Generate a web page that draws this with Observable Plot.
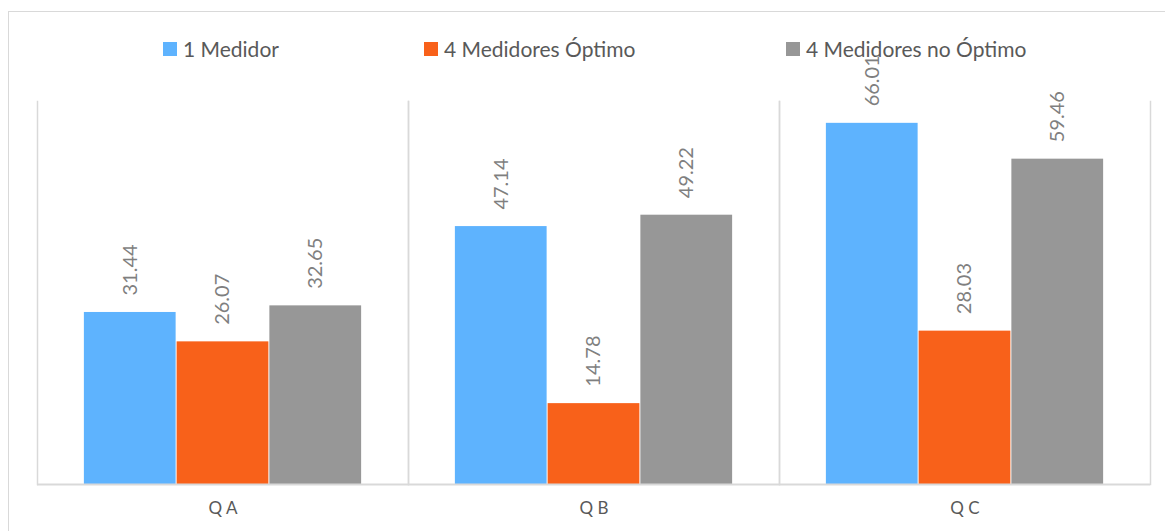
<!DOCTYPE html>
<html>
<head>
<meta charset="utf-8">
<script src="https://cdn.jsdelivr.net/npm/d3@7"></script>
<script src="https://cdn.jsdelivr.net/npm/@observablehq/plot@0.6"></script>
<style>
  html, body { margin: 0; padding: 0; background: #fff; overflow: hidden; }
  #wrap { position: relative; width: 1165px; height: 531px; font-family: Lato, "Open Sans", sans-serif; }
  #border { position: absolute; left: 8px; top: 11px; width: 1200px; height: 600px; border: 1.5px solid #d9d9d9; box-sizing: border-box; pointer-events: none; }
  #legend { position: relative; height: 48px; }
  .item { position: absolute; top: 30px; height: 38px; display: flex; align-items: center; gap: 6px; font-size: 21px; line-height: 20px; color: #595959; white-space: nowrap; }
  .sw { width: 14px; height: 14px; display: inline-block; }
  #chart svg { display: block; }
</style>
</head>
<body>
<div id="wrap">
  <div id="border"></div>
  <div id="legend"></div>
  <div id="chart"></div>
</div>
<script>
const categories = ["Q A", "Q B", "Q C"];
const series = ["1 Medidor", "4 Medidores Óptimo", "4 Medidores no Óptimo"];
const valuesMedidor1 = [31.44, 47.14, 66.01];
const valuesOptimo4 = [26.07, 14.78, 28.03];
const valuesNoOptimo4 = [32.65, 49.22, 59.46];
const colors = ["#5EB3FE", "#F8611A", "#979797"];
const legendLeft = [163, 424, 786];

const seriesValues = [valuesMedidor1, valuesOptimo4, valuesNoOptimo4];
const data = categories.flatMap((c, i) => series.map((s, j) => ({cat: c, s, v: seriesValues[j][i]})));

const legend = document.getElementById("legend");
series.forEach((s, j) => {
  const it = document.createElement("div");
  it.className = "item";
  it.style.left = legendLeft[j] + "px";
  const sw = document.createElement("span");
  sw.className = "sw";
  sw.style.background = colors[j];
  const t = document.createElement("span");
  t.textContent = s;
  it.appendChild(sw); it.appendChild(t);
  legend.appendChild(it);
});

const chart = Plot.plot({
  width: 1165,
  height: 483,
  marginLeft: 37,
  marginRight: 15,
  marginTop: 53,
  marginBottom: 47,
  fx: {domain: categories, padding: 0, label: null, tickSize: 0, tickPadding: 17},
  x: {domain: series, paddingInner: 0, paddingOuter: 0.5, axis: null, round: false},
  y: {domain: [0, 70], axis: null},
  color: {domain: series, range: colors},
  style: {fontFamily: "Lato, 'Open Sans', sans-serif", fontSize: "17px", color: "#595959", background: "transparent"},
  marks: [
    Plot.frame({anchor: "left", stroke: "#d9d9d9", strokeWidth: 1.5}),
    Plot.frame({anchor: "right", stroke: "#d9d9d9", strokeWidth: 1.5}),
    Plot.barY(data, {fx: "cat", x: "s", y: "v", fill: "s", insetLeft: 0.5, insetRight: 0.5}),
    Plot.ruleY([0], {stroke: "#d9d9d9", strokeWidth: 2}),
    Plot.text(data, {fx: "cat", x: "s", y: "v", text: d => d.v.toFixed(2), rotate: -90, textAnchor: "start", dy: -17, fill: "#7f7f7f", fontSize: 20})
  ]
});
document.getElementById("chart").appendChild(chart);
</script>
</body>
</html>
